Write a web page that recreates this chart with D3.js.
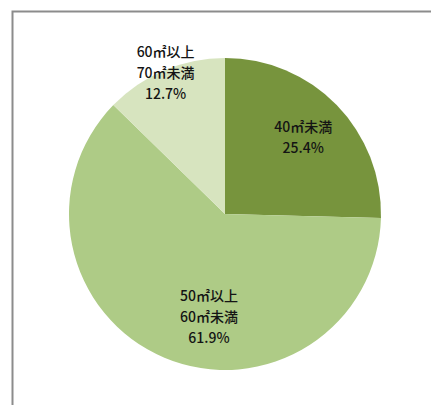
<!DOCTYPE html>
<html>
<head>
<meta charset="utf-8">
<script src="https://cdn.jsdelivr.net/npm/d3@7"></script>
<style>
  html, body { margin: 0; padding: 0; background: #fff; }
  svg { display: block; }
  text { font-family: "Noto Sans CJK JP", "Noto Sans", sans-serif; }
</style>
</head>
<body>
<svg id="chart" width="431" height="405"></svg>
<script>
// Floor-area bands and their share of units (%)
const categories = ["40㎡未満", "50㎡以上\n60㎡未満", "60㎡以上\n70㎡未満"];
const shares = [25.4, 61.9, 12.7];
const colors = ["#77943d", "#aecb86", "#d7e4bf"];

// Label placement: radius as a fraction of the pie radius, plus an angular nudge (degrees)
const labelRadiusFrac = [0.70, 0.67, 0.98];
const labelAngleNudge = [0, -14, 0];

const width = 431, height = 405;
const cx = 225, cy = 214, R = 156;

const svg = d3.select("#chart");

// Chart-area frame
svg.append("rect")
  .attr("x", 12.5).attr("y", 11.5)
  .attr("width", 440).attr("height", 420)
  .attr("fill", "#fff")
  .attr("stroke", "#8c8c8c")
  .attr("stroke-width", 2);

const data = categories.map((c, i) => ({ label: c, value: shares[i], color: colors[i] }));

const pie = d3.pie().value(d => d.value).sort(null);
const arcs = pie(data);
const arc = d3.arc().innerRadius(0).outerRadius(R);

const g = svg.append("g").attr("transform", `translate(${cx},${cy})`);

g.selectAll("path.slice")
  .data(arcs)
  .join("path")
  .attr("class", "slice")
  .attr("d", arc)
  .attr("fill", d => d.data.color);

// Data labels: category lines followed by the percentage
const lineH = 21;
arcs.forEach((d, i) => {
  const mid = (d.startAngle + d.endAngle) / 2 + labelAngleNudge[i] * Math.PI / 180;
  const r = R * labelRadiusFrac[i];
  const x = Math.sin(mid) * r;
  const y = -Math.cos(mid) * r;
  const lines = d.data.label.split("\n").concat([d3.format(".1f")(d.data.value) + "%"]);
  const t = g.append("text")
    .attr("text-anchor", "middle")
    .attr("font-size", 14)
    .attr("font-weight", 500)
    .attr("fill", "#141414");
  lines.forEach((ln, j) => {
    t.append("tspan")
      .attr("x", x)
      .attr("y", y + (j - (lines.length - 1) / 2) * lineH)
      .attr("dy", "0.35em")
      .text(ln);
  });
});
</script>
</body>
</html>
